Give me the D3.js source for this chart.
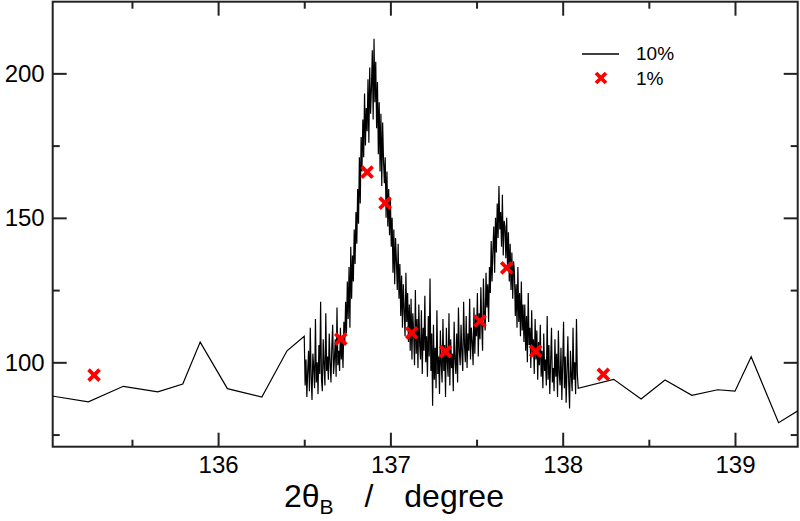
<!DOCTYPE html>
<html>
<head>
<meta charset="utf-8">
<script src="https://cdn.jsdelivr.net/npm/d3@7"></script>
<style>
  body { margin: 0; background: #fff; }
  svg { display: block; font-family: 'Liberation Sans', Arial, Helvetica, sans-serif; }
</style>
</head>
<body>
<div id="chart"></div>
<script>
// 10% scan, coarse points below the peaks
const lowX = [135.02, 135.247, 135.45, 135.65, 135.795, 135.896, 136.054, 136.254, 136.40];
const lowY = [88.5, 86.3, 91.7, 89.8, 92.5, 107.0, 90.9, 88.0, 104.0];

// 10% scan, fine part over both peaks (start + step in degree)
const fineStart = 136.50;
const fineStep = 0.005;
const fineY = [
  109, 92, 101, 88, 97, 104, 90, 112, 95, 87, 103, 98, 91, 115, 93, 100, 89, 106, 96, 121,
  94, 90, 108, 99, 92, 117, 97, 102, 94, 110, 100, 93, 105, 113, 96, 101, 108, 95, 119, 99,
  104, 97, 112, 101, 107, 98, 114,
  106, 121, 110, 128, 115, 133, 112, 140, 122, 137, 128, 146,
  134, 152, 141, 160, 148, 171, 155, 178,
  166, 184, 171, 193, 175, 188, 180, 198, 176, 202, 186,
  195, 208, 184, 212, 190, 204, 181,
  197, 172, 190, 166, 186, 161, 183, 170, 162,
  171, 150, 166, 147, 160, 144, 157, 140,
  150, 131, 146, 127, 143, 135, 125, 141, 122,
  134, 116, 130, 112, 127, 118, 109, 131, 114, 124, 107, 120,
  104, 122, 101, 117, 110, 99, 125, 103, 115, 98, 120, 106, 101, 118, 96, 112, 104, 123, 100, 109,
  95, 116, 102,
  129, 97, 110, 85, 113, 94, 105, 91, 118, 96, 102, 89, 111, 99, 93, 115, 97, 106, 88, 112,
  100, 95, 117, 92, 108, 98, 103, 90, 114, 101, 96, 110, 93, 119, 104,
  99, 113, 103, 97, 121, 106, 100, 116, 98, 110, 104, 122, 101, 112, 107, 99, 119, 103, 115, 109,
  124, 102, 117,
  108, 126, 113, 104, 129, 116, 111, 131, 119, 127, 114,
  133, 124, 142, 128, 139, 147, 131, 150,
  138, 155, 143, 161, 146, 152, 140, 158, 137, 149,
  147, 136, 150, 132, 145, 128, 141, 125, 138, 122, 135,
  131, 116, 127, 112, 133, 114, 124, 109, 128, 111, 120, 107,
  120, 104, 116, 100, 124, 106, 112, 98, 118, 103, 108, 96, 115, 101, 111, 94, 107, 99,
  113, 95, 104, 91, 110, 97, 101, 92, 116, 94, 106, 89, 100, 112, 93, 98, 90, 108, 95, 103,
  88, 111, 96, 92, 105, 87, 99, 114, 91, 102, 86, 97, 109, 93, 84, 104, 95, 90, 112, 94,
  100, 89, 115, 96, 91,
];

// 10% scan, coarse points above the peaks
const highX = [138.296, 138.455, 138.594, 138.75, 138.90, 139.0, 139.094, 139.253, 139.40];
const highY = [94.1, 87.3, 93.9, 88.6, 90.5, 90.0, 101.9, 79.1, 84.5];

// 1% scan
const onePctX = [135.28, 136.712, 136.865, 136.969, 137.124, 137.32, 137.52, 137.675, 137.843, 138.236];
const onePctY = [95.6, 108.0, 165.8, 155.1, 110.2, 103.7, 114.3, 132.7, 103.9, 95.8];

const xTicks = [136, 137, 138, 139];
const xMinor = [135.5, 136.5, 137.5, 138.5];
const yTicks = [100, 150, 200];
const yMinor = [75, 125, 175];
const legendLabels = ['10%', '1%'];

const SETTING = {
  width: 800,
  height: 521,
  left: 52.7,
  right: 797.7,
  top: 1.7,
  bottom: 446.7,
  major: 14,
  minor: 7,
  red: '#f00',
  font: "'Liberation Sans', Arial, Helvetica, sans-serif",
};

// build the 10% series
const fine = fineY.map((v, i) => [fineStart + i * fineStep, v]);
const tenPct = lowX.map((x, i) => [x, lowY[i]])
  .concat(fine)
  .concat(highX.map((x, i) => [x, highY[i]]));
const onePct = onePctX.map((x, i) => [x, onePctY[i]]);

const svg = d3.select('#chart').append('svg')
  .attr('width', SETTING.width)
  .attr('height', SETTING.height);

const x = d3.scaleLinear().domain([135.04, 139.364]).range([SETTING.left, SETTING.right]);
const y = d3.scaleLinear().domain([70.8, 224.8]).range([SETTING.bottom, SETTING.top]);

svg.append('clipPath').attr('id', 'plot')
  .append('rect')
  .attr('x', SETTING.left)
  .attr('y', SETTING.top)
  .attr('width', SETTING.right - SETTING.left)
  .attr('height', SETTING.bottom - SETTING.top);

// axes, ticks point inwards on all four sides
function addAxis(axis, tx, ty, labels) {
  const g = svg.append('g')
    .attr('transform', `translate(${tx},${ty})`)
    .call(axis);
  g.select('.domain').remove();
  g.selectAll('line').attr('stroke', '#222').attr('stroke-width', 2);
  g.selectAll('text')
    .attr('fill', '#000')
    .style('font-size', '24px')
    .style('font-family', SETTING.font);
  if (!labels) g.selectAll('text').remove();
}

addAxis(d3.axisBottom(x).tickValues(xTicks).tickSize(-SETTING.major).tickPadding(9)
  .tickFormat(d3.format('d')), 0, SETTING.bottom, true);
addAxis(d3.axisBottom(x).tickValues(xMinor).tickSize(-SETTING.minor), 0, SETTING.bottom, false);
addAxis(d3.axisTop(x).tickValues(xTicks).tickSize(-SETTING.major), 0, SETTING.top, false);
addAxis(d3.axisTop(x).tickValues(xMinor).tickSize(-SETTING.minor), 0, SETTING.top, false);
addAxis(d3.axisLeft(y).tickValues(yTicks).tickSize(-SETTING.major).tickPadding(8)
  .tickFormat(d3.format('d')), SETTING.left, 0, true);
addAxis(d3.axisLeft(y).tickValues(yMinor).tickSize(-SETTING.minor), SETTING.left, 0, false);
addAxis(d3.axisRight(y).tickValues(yTicks).tickSize(-SETTING.major), SETTING.right, 0, false);
addAxis(d3.axisRight(y).tickValues(yMinor).tickSize(-SETTING.minor), SETTING.right, 0, false);

// frame
svg.append('rect')
  .attr('x', SETTING.left)
  .attr('y', SETTING.top)
  .attr('width', SETTING.right - SETTING.left)
  .attr('height', SETTING.bottom - SETTING.top)
  .attr('fill', 'none')
  .attr('stroke', '#222')
  .attr('stroke-width', 2);

// 10% line
svg.append('path')
  .datum(tenPct)
  .attr('clip-path', 'url(#plot)')
  .attr('fill', 'none')
  .attr('stroke', '#000')
  .attr('stroke-width', 1.2)
  .attr('d', d3.line().x((d) => x(d[0])).y((d) => y(d[1])));

// 1% crosses
function cross(sel, size) {
  sel.append('path')
    .attr('d', `M${-size},${-size}L${size},${size}M${-size},${size}L${size},${-size}`)
    .attr('stroke', SETTING.red)
    .attr('stroke-width', 3.8)
    .attr('fill', 'none');
}

svg.append('g')
  .selectAll('g')
  .data(onePct)
  .enter()
  .append('g')
  .attr('transform', (d) => `translate(${x(d[0])},${y(d[1])})`)
  .call(cross, 5.5);

// legend
const legend = svg.append('g');
legend.append('line')
  .attr('x1', 582).attr('x2', 619)
  .attr('y1', 54).attr('y2', 54)
  .attr('stroke', '#000')
  .attr('stroke-width', 1.3);
legend.append('g')
  .attr('transform', 'translate(601,78)')
  .call(cross, 5);
legend.selectAll('text')
  .data(legendLabels)
  .enter()
  .append('text')
  .attr('x', 636)
  .attr('y', (d, i) => 60 + i * 25)
  .style('font-size', '19px')
  .style('font-family', SETTING.font)
  .text((d) => d);

// x axis title
const title = svg.append('text')
  .attr('x', 284)
  .attr('y', 507)
  .style('font-size', '32px')
  .style('word-spacing', '22px')
  .style('font-family', SETTING.font);
title.append('tspan').text('2θ');
title.append('tspan').attr('dy', 7).style('font-size', '21px').text('B');
title.append('tspan').attr('dy', -7).text(' / degree');
</script>
</body>
</html>
